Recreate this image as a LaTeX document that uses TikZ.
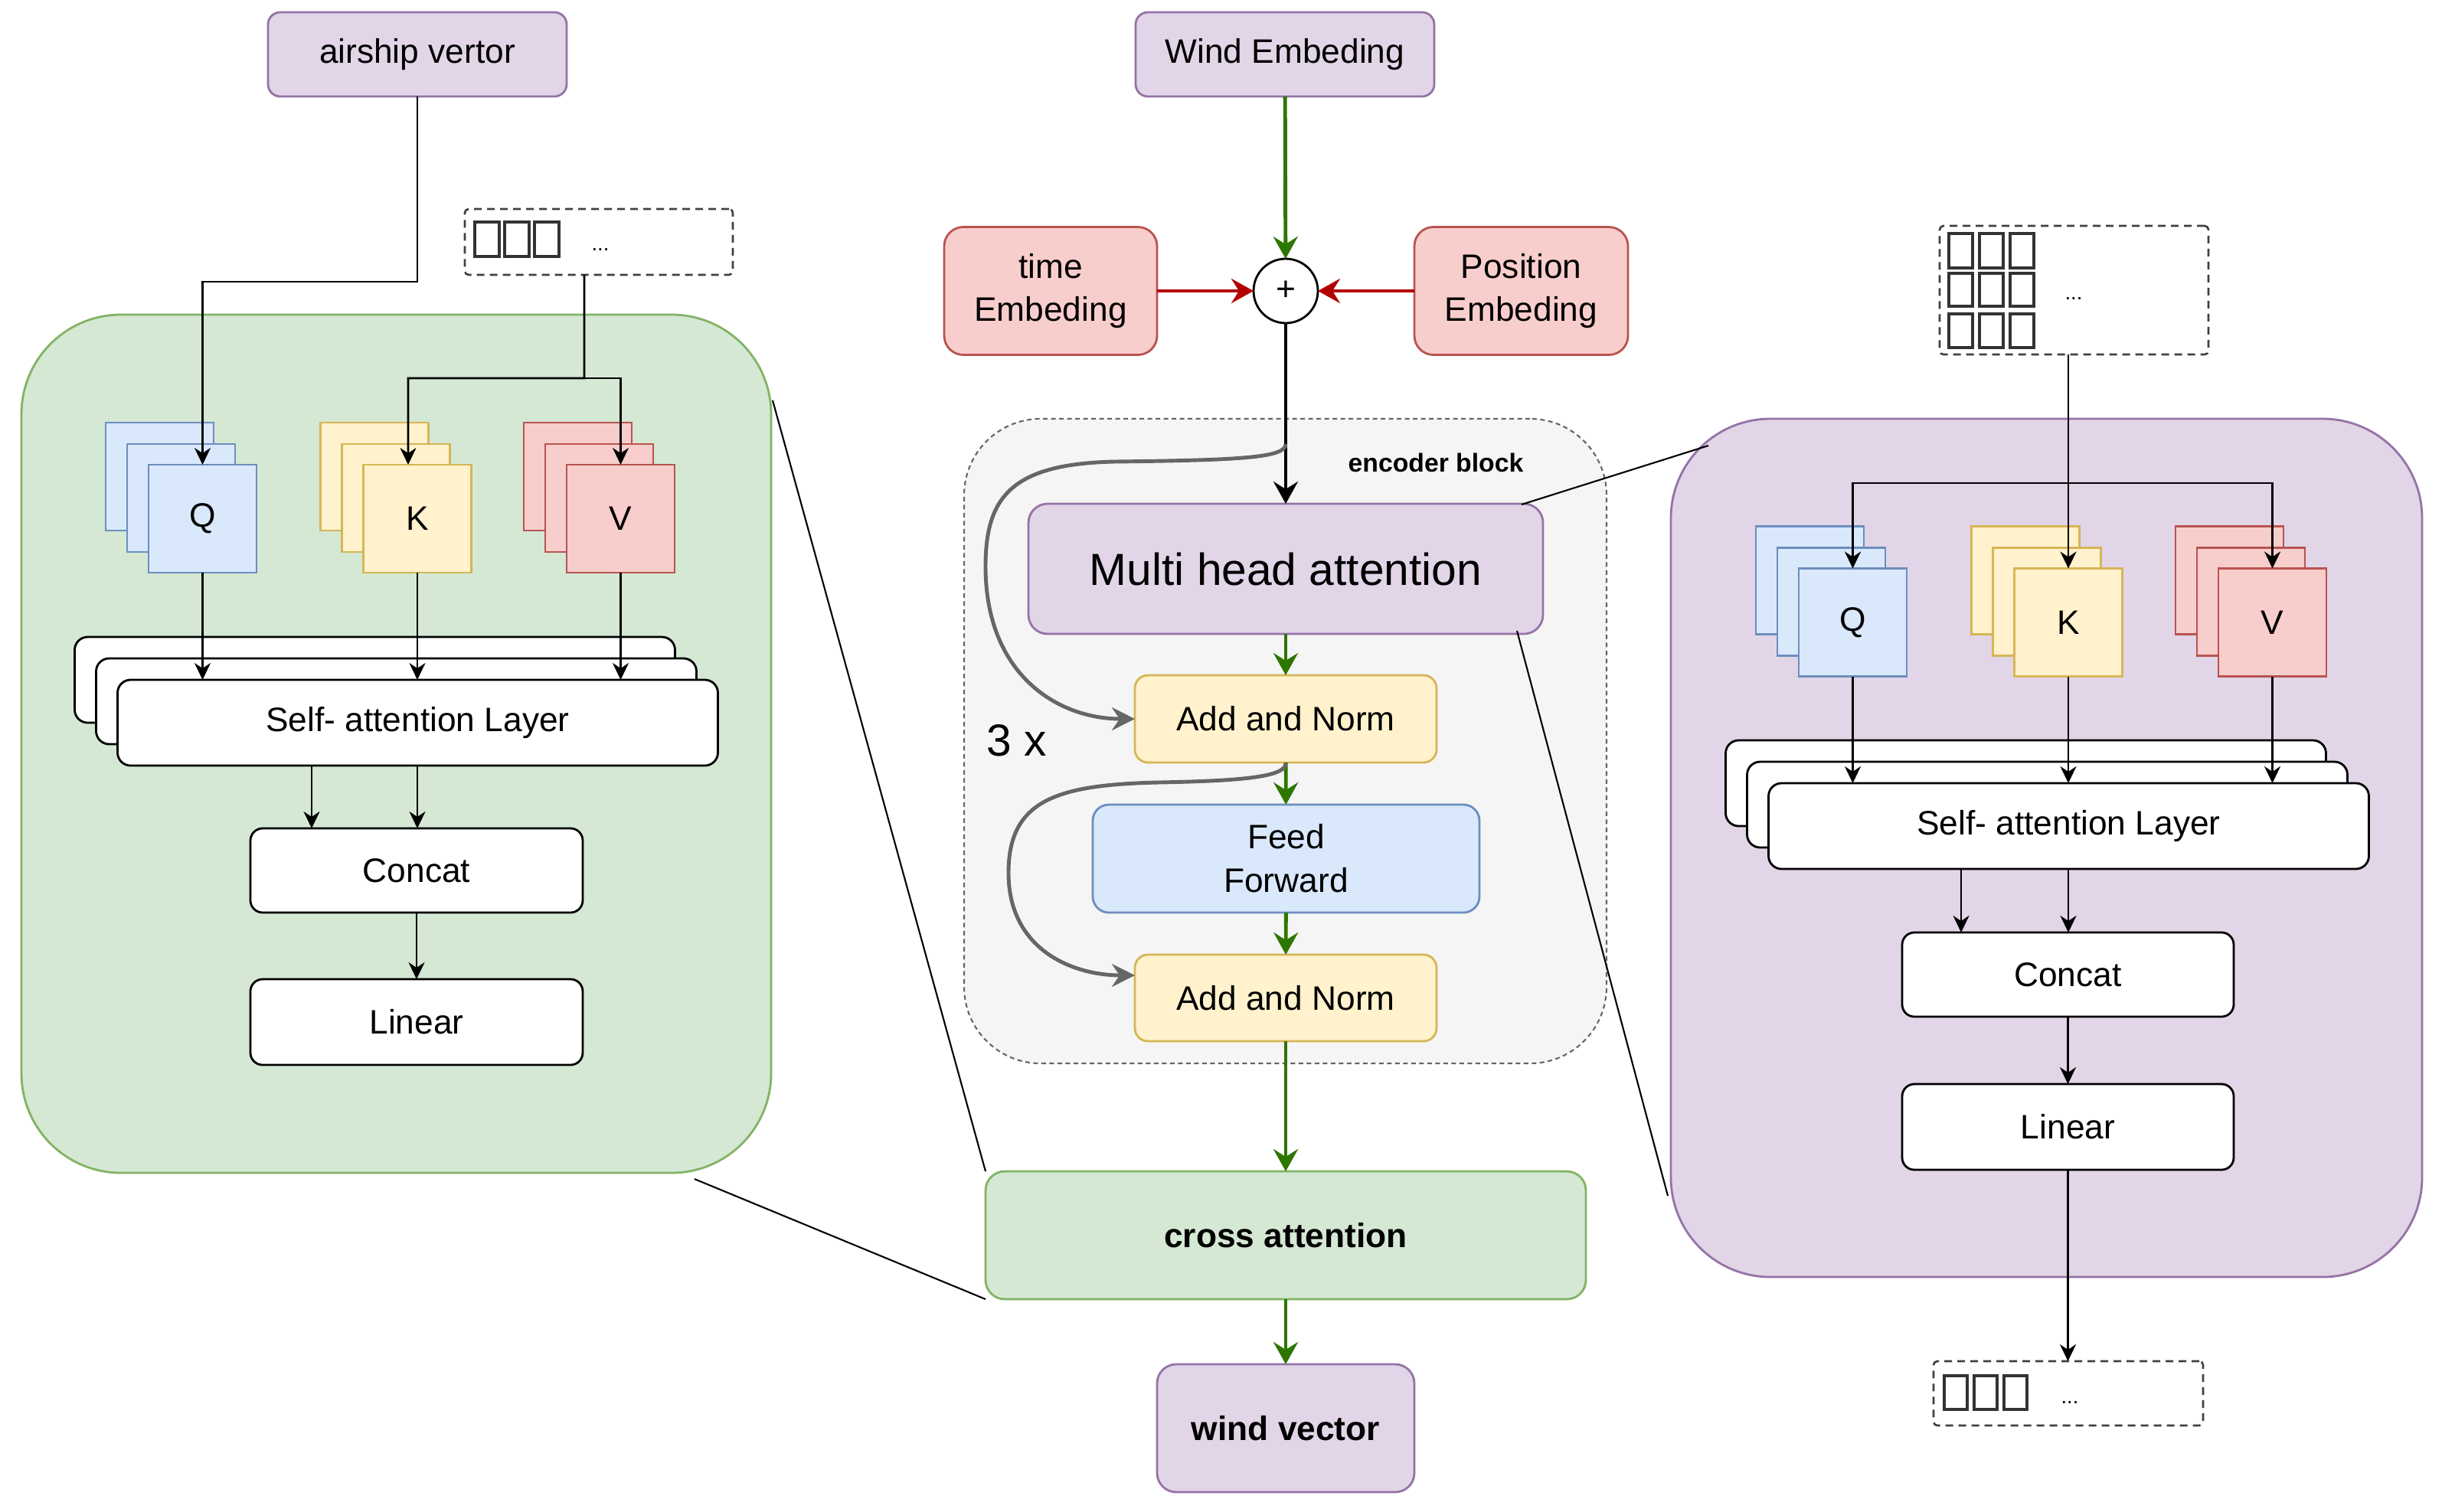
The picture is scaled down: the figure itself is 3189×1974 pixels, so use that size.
\documentclass[tikz,border=0pt]{standalone}
\usepackage{fontspec}
\setmainfont{Liberation Sans}
\usetikzlibrary{arrows.meta,calc}
\definecolor{pfill}{HTML}{E1D5E7}
\definecolor{pline}{HTML}{9673A6}
\definecolor{rfill}{HTML}{F8CECC}
\definecolor{rline}{HTML}{B85450}
\definecolor{gfill}{HTML}{D5E8D4}
\definecolor{gline}{HTML}{82B366}
\definecolor{yfill}{HTML}{FFF2CC}
\definecolor{yline}{HTML}{D6B656}
\definecolor{bfill}{HTML}{DAE8FC}
\definecolor{bline}{HTML}{6C8EBF}
\definecolor{efill}{HTML}{F5F5F5}
\definecolor{eline}{HTML}{666666}
\definecolor{agreen}{HTML}{2D7600}
\definecolor{ared}{HTML}{B20000}
\newcommand\myfnt{\fontsize{12.6}{16.2}\selectfont}
\newcommand\mystack[6]{%
  \node[qkvbox, fill=#4, draw=#5] (#1c) at (#2-56,#3-55) {};
  \node[qkvbox, fill=#4, draw=#5] (#1b) at (#2-28,#3-27) {};
  \node[qkvbox, fill=#4, draw=#5] (#1) at (#2,#3) {#6};}
\newcommand\mysa[3]{%
  \node[wbox, wh={784}{112}, rounded corners=1.7mm] (#1c) at (#2-56,#3-56) {};
  \node[wbox, wh={784}{112}, rounded corners=1.7mm] (#1b) at (#2-28,#3-28) {};
  \node[wbox, wh={784}{112}, rounded corners=1.7mm] (#1) at (#2,#3) {Self- attention Layer};}
\begin{document}
\begin{tikzpicture}[x=0.1mm,y=-0.1mm,
  wh/.style 2 args={minimum width=#1*0.1mm, minimum height=#2*0.1mm},
  box/.style={draw, inner sep=0pt, outer sep=0pt, align=center, font=\myfnt, line width=0.8pt},
  pbox/.style={box, fill=pfill, draw=pline},
  rbox/.style={box, fill=rfill, draw=rline},
  gbox/.style={box, fill=gfill, draw=gline},
  ybox/.style={box, fill=yfill, draw=yline},
  bbox/.style={box, fill=bfill, draw=bline},
  wbox/.style={box, fill=white, draw=black},
  qkvbox/.style={box, wh={141}{141}},
  dbox/.style={draw=black!75, dash pattern=on 1mm off 0.7mm, line width=0.75pt, rounded corners=0.5mm, inner sep=0pt, outer sep=0pt},
  tofu/.style={draw=black!80, line width=1.2pt},
  thinarrow/.style={draw=black, line width=0.8pt, -{Stealth[length=2.2mm,width=2.1mm,inset=0.7mm]}},
  garrow/.style={draw=agreen, line width=1.4pt, -{Stealth[length=2.9mm,width=3.2mm,inset=1mm]}},
  rarrow/.style={draw=ared, line width=1.4pt, -{Stealth[length=2.9mm,width=3.2mm,inset=1mm]}},
  karrow/.style={draw=black, line width=1.4pt, -{Stealth[length=2.9mm,width=3.2mm,inset=1mm]}},
  gcurve/.style={draw=eline, line width=1.4pt, -{Stealth[length=3mm,width=3mm,inset=1mm]}},
  zoomline/.style={draw=black, line width=0.6pt}]
\useasboundingbox (0,0) rectangle (3189,1974);
\fill[white] (0,0) rectangle (3189,1974);

% containers
\node[gbox, wh={979}{1121}, rounded corners=13mm] (lcont) at (517.5,971.5) {};
\node[pbox, wh={981}{1121}, rounded corners=13mm] (rcont) at (2672.5,1107.5) {};
\node[draw=eline, fill=efill, dash pattern=on 0.6mm off 0.45mm, line width=0.6pt, rounded corners=10mm, wh={839}{842}, inner sep=0pt, outer sep=0pt] (enc) at (1678.5,968) {};
\node[font=\bfseries\fontsize{9.6}{11}\selectfont] (enclab) at (1875,604) {encoder block};

% top inputs
\node[pbox, wh={390}{110}, rounded corners=1.6mm] (air) at (545,71) {airship vertor};
\node[pbox, wh={390}{110}, rounded corners=1.6mm] (wemb) at (1678,71) {Wind Embeding};
\node[rbox, wh={278}{167}, rounded corners=2.5mm] (time) at (1372,380) {time\\Embeding};
\node[rbox, wh={279}{167}, rounded corners=2.5mm] (pos) at (1986.5,380) {Position\\Embeding};
\node[circle, draw, fill=white, minimum size=8.4mm, inner sep=0pt, outer sep=0pt, line width=0.8pt, font=\myfnt] (plus) at (1679,380) {+};

% encoder
\node[pbox, wh={672}{170}, rounded corners=2.5mm, font=\fontsize{16.7}{20}\selectfont] (mha) at (1679,743) {Multi head attention};
\node[ybox, wh={394}{114}, rounded corners=1.7mm] (an1) at (1679,939) {Add and Norm};
\node[bbox, wh={505}{141}, rounded corners=2.1mm] (ff) at (1679.5,1121.5) {Feed\\Forward};
\node[ybox, wh={394}{113}, rounded corners=1.7mm] (an2) at (1679,1303.5) {Add and Norm};
\node[font=\fontsize{16.7}{20}\selectfont] (three) at (1328,967) {3 x};
\node[gbox, wh={784}{167}, rounded corners=2.5mm, font=\myfnt\bfseries] (cross) at (1679,1613.5) {cross attention};
\node[pbox, wh={336}{167}, rounded corners=2.5mm, font=\myfnt\bfseries] (wvec) at (1679,1865.5) {wind vector};

% left attention
\node[dbox, wh={350}{86}] (ldash) at (782,316) {};
\foreach \x in {620,659,698} \draw[tofu] (\x,290) rectangle ++(32,45);
\node[anchor=base, font=\fontsize{7.8}{9}\selectfont] (ldots) at (784,327) {...};
\mystack{lq}{264.5}{677.5}{bfill}{bline}{Q}
\mystack{lk}{545}{677.5}{yfill}{yline}{K}
\mystack{lv}{810.5}{677.5}{rfill}{rline}{V}
\mysa{lsa}{545.5}{944}
\node[wbox, wh={434}{110}, rounded corners=1.6mm] (lcon) at (544,1137) {Concat};
\node[wbox, wh={434}{112}, rounded corners=1.6mm] (llin) at (544,1335) {Linear};

% right attention
\node[dbox, wh={351}{168}] (rdash) at (2708.5,379) {};
\foreach \x in {2545,2585,2625} \foreach \y/\h in {305/45,357/43,410/44} \draw[tofu] (\x,\y) rectangle ++(31,\h);
\node[anchor=base, font=\fontsize{7.8}{9}\selectfont] (rdots) at (2708,391) {...};
\mystack{rq}{2419.5}{813}{bfill}{bline}{Q}
\mystack{rk}{2701}{813}{yfill}{yline}{K}
\mystack{rv}{2967.5}{813}{rfill}{rline}{V}
\mysa{rsa}{2701.5}{1079}
\node[wbox, wh={433}{110}, rounded corners=1.6mm] (rcon) at (2700.5,1273) {Concat};
\node[wbox, wh={433}{112}, rounded corners=1.6mm] (rlin) at (2700.5,1472) {Linear};
\node[dbox, wh={352}{84}] (rbdash) at (2701,1820) {};
\foreach \x in {2539,2578,2617} \draw[tofu] (\x,1797) rectangle ++(30,44);
\node[anchor=base, font=\fontsize{7.8}{9}\selectfont] (rbdots) at (2703,1833) {...};

% main flow
\draw[garrow] (wemb) -- (plus);
\draw[rarrow] (time) -- (plus);
\draw[rarrow] (pos) -- (plus);
\draw[karrow] (plus) -- (mha);
\draw[garrow] (mha) -- (an1);
\draw[garrow] (an1) -- (ff);
\draw[garrow] (ff) -- (an2);
\draw[garrow] (an2) -- (cross);
\draw[garrow] (cross) -- (wvec);
\coordinate (s1) at (1679,580);
\coordinate (s2) at (1679,997);
\draw[gcurve] (s1) .. controls (1679,598) and (1620,601) .. (1455,603)
  .. controls (1320,606) and (1287,650) .. (1287,740)
  .. controls (1287,880) and (1380,939) .. (an1.west);
\draw[gcurve] (s2) .. controls (1679,1015) and (1620,1020) .. (1513,1022)
  .. controls (1380,1025) and (1317,1045) .. (1317,1140)
  .. controls (1317,1240) and (1400,1274) .. (1482,1274);

% left connectors
\draw[thinarrow] (air.south) -- (545,368) -| (lq.north);
\coordinate (lj) at (763,494);
\draw[thinarrow] ([xshift=-1.9mm]ldash.south) -- (lj) -| ([xshift=-1.2mm]lk.north);
\draw[thinarrow] (lj) -| (lv.north);
\draw[thinarrow] (lq.south) -- (lq.south |- lsa.north);
\draw[thinarrow] (lk.south) -- (lk.south |- lsa.north);
\draw[thinarrow] (lv.south) -- (lv.south |- lsa.north);
\draw[thinarrow] (407,0 |- lsa.south) -- (407,0 |- lcon.north);
\draw[thinarrow] (545,0 |- lsa.south) -- (545,0 |- lcon.north);
\draw[thinarrow] (lcon) -- (llin);

% right connectors
\coordinate (rj) at (2701,631);
\draw[thinarrow] (2701,0 |- rdash.south) -- (rk.north);
\draw[thinarrow] (rj) -| (rq.north);
\draw[thinarrow] (rj) -| (rv.north);
\draw[thinarrow] (rq.south) -- (rq.south |- rsa.north);
\draw[thinarrow] (rk.south) -- (rk.south |- rsa.north);
\draw[thinarrow] (rv.south) -- (rv.south |- rsa.north);
\draw[thinarrow] (2561,0 |- rsa.south) -- (2561,0 |- rcon.north);
\draw[thinarrow] (2701,0 |- rsa.south) -- (2701,0 |- rcon.north);
\draw[thinarrow] (rcon) -- (rlin);
\draw[thinarrow] (rlin.south) -- (rlin.south |- rbdash.north);

% zoom lines
\coordinate (z1) at (1009,523);
\coordinate (z2) at (907,1540);
\coordinate (z3) at (1987,659);
\coordinate (z4) at (2231,582);
\coordinate (z5) at (1981,824);
\coordinate (z6) at (2178,1562);
\draw[zoomline] (z1) -- (cross.north west);
\draw[zoomline] (z2) -- (cross.south west);
\draw[zoomline] (z3) -- (z4);
\draw[zoomline] (z5) -- (z6);
\end{tikzpicture}
\end{document}
